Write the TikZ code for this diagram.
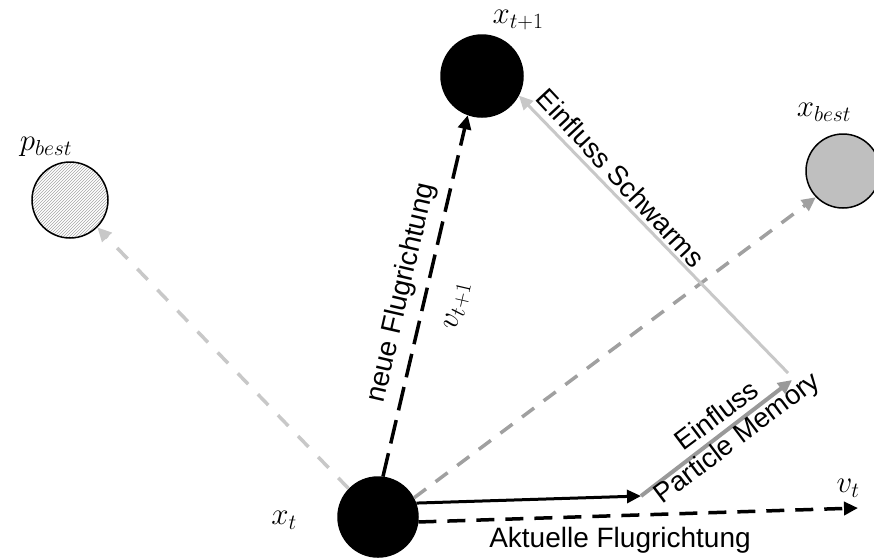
\RequirePackage{fix-cm}
\documentclass[tikz,border=0pt]{standalone}
\usepackage{fontspec}
\setmainfont{Liberation Sans}
\usetikzlibrary{arrows.meta,patterns}
\definecolor{lgray}{HTML}{C8C8C8}
\definecolor{mgray}{HTML}{A0A0A0}
\definecolor{dgray}{HTML}{999999}
\definecolor{fgray}{HTML}{BFBFBF}
\begin{document}
\begin{tikzpicture}[x=1pt,y=-1pt,
  txt/.style={font=\fontsize{28}{32}\selectfont, inner sep=0pt},
  rtxt/.style={font=\fontsize{27.5}{32}\selectfont, inner sep=0pt},
  mlbl/.style={font=\fontsize{31}{36}\selectfont, inner sep=0pt},
  particle/.style={circle, draw=black, line width=1.5pt, inner sep=0pt},
  tip/.style={-{Triangle[length=14pt,width=13pt]}},
  blackdash/.style={tip, black, line width=3.5pt, dash pattern=on 24pt off 10pt},
  blackdashb/.style={tip, black, line width=3.5pt, dash pattern=on 18pt off 11pt},
  lgdash/.style={tip, lgray, line width=3.5pt, dash pattern=on 15pt off 14pt},
  mgdash/.style={tip, mgray, line width=3.5pt, dash pattern=on 15pt off 12pt},
  blackline/.style={tip, black, line width=3pt},
  memline/.style={tip, dgray, line width=4pt},
  swline/.style={tip, lgray, line width=3pt}]
\useasboundingbox (0,0) rectangle (874,558);
% particles
\node[particle, fill=black, minimum size=80pt] (xt) at (378,517) {};
\node[particle, fill=black, minimum size=82pt] (xt1) at (482,76) {};
\node[particle, pattern=north east lines, pattern color=gray!70, minimum size=76pt] (pb) at (70,200) {};
\node[particle, fill=fgray, minimum size=74pt] (xb) at (843,171) {};
% helper points
\coordinate (m1) at (641,496);
\coordinate (m2) at (792,380);
\coordinate (m3) at (788,373);
\coordinate (vt) at (858,508);
% connectors
\draw[lgdash] (xt.136) -- (pb.-45);
\draw[mgdash] (xt.28) -- (xb.224);
\draw[blackdash] (xt.83) -- (xt1.250);
\draw[blackline] (xt.20) -- (m1);
\draw[memline] (m1) -- (m2);
\draw[swline] (m3) -- (xt1.-28);
\draw[blackdashb] (xt.-7) -- (vt);
% labels
\node[txt, anchor=base] (takt) at (620,547) {Aktuelle Flugrichtung};
\node[mlbl] (lxt1) at (518,20) {$x_{t+1}$};
\node[mlbl] (lpb) at (46,147) {$p_{best}$};
\node[mlbl] (lxb) at (824,112) {$x_{best}$};
\node[mlbl] (lxt) at (284,520) {$x_t$};
\node[mlbl] (lvt) at (848,488) {$v_t$};
\node[mlbl, rotate=77] (lvt1) at (458,306) {$v_{t+1}$};
\node[rtxt, font=\fontsize{28}{32}\selectfont, rotate=77] (tneu) at (402,293) {neue Flugrichtung};
\node[rtxt, rotate=-47] (tsw) at (621,178) {Einfluss Schwarms};
\node[rtxt, rotate=37] (tein) at (716,415) {Einfluss};
\node[rtxt, rotate=37] (tpm) at (738,439) {Particle Memory};
\end{tikzpicture}
\end{document}
